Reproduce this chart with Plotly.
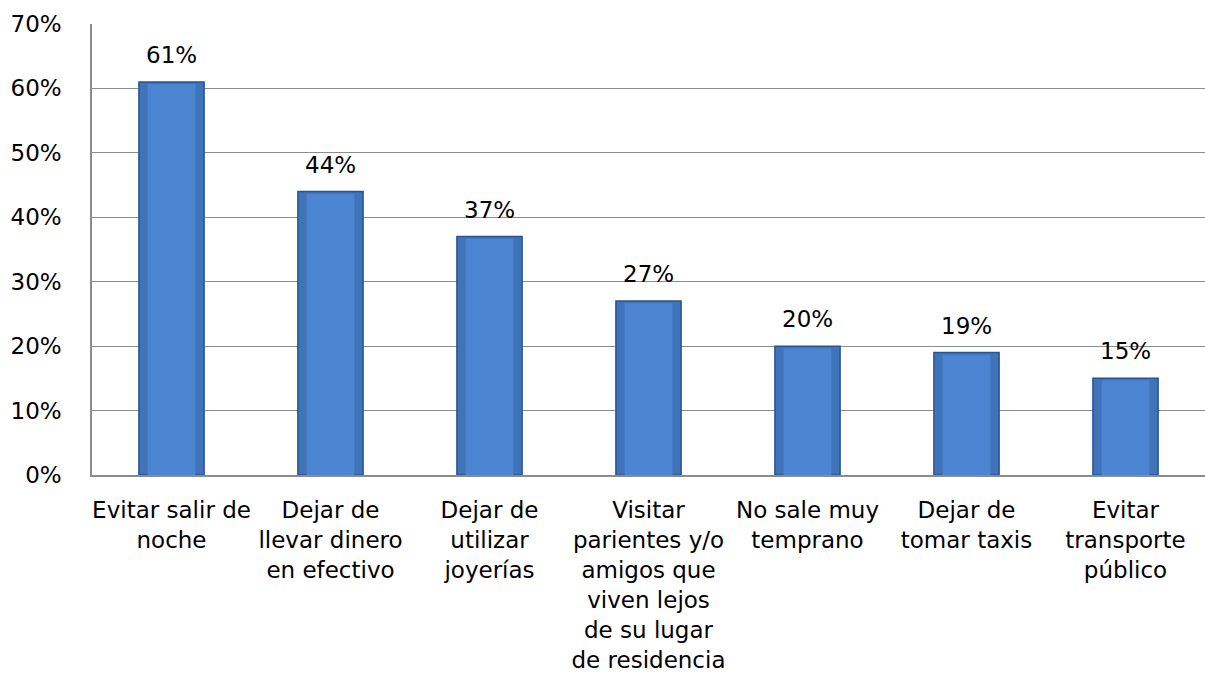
import plotly.graph_objects as go

categories = [
    "Evitar salir de<br>noche",
    "Dejar de<br>llevar dinero<br>en efectivo",
    "Dejar de<br>utilizar<br>joyerías",
    "Visitar<br>parientes y/o<br>amigos que<br>viven lejos<br>de su lugar<br>de residencia",
    "No sale muy<br>temprano",
    "Dejar de<br>tomar taxis",
    "Evitar<br>transporte<br>público",
]
values = [61, 44, 37, 27, 20, 19, 15]
labels = [f"{v}%" for v in values]
y_ticks = [0, 10, 20, 30, 40, 50, 60, 70]
y_tick_labels = [f"{t}%" for t in y_ticks]

FONT = "DejaVu Sans"
FS = 23

fig = go.Figure()
fig.add_trace(go.Bar(
    x=categories, y=values, width=0.41,
    marker=dict(color="#3F73BA", line=dict(color="#2A5590", width=1.5)),
    hoverinfo="skip",
))
fig.add_trace(go.Bar(
    x=categories, y=[v - 0.35 for v in values], width=0.3,
    marker=dict(color="#4C86D2", line=dict(width=0)),
    hoverinfo="skip",
))
for c, v, t in zip(categories, values, labels):
    fig.add_annotation(x=c, y=v, text=t, showarrow=False,
                       yanchor="bottom", yshift=12,
                       font=dict(family=FONT, size=FS, color="#000000"))
fig.update_layout(
    width=1205, height=682,
    margin=dict(l=92, r=0, t=24, b=207),
    paper_bgcolor="white", plot_bgcolor="white",
    barmode="overlay", showlegend=False,
    font=dict(family=FONT, size=FS, color="#000000"),
)
fig.update_yaxes(
    range=[0, 70], tickvals=y_ticks, ticktext=y_tick_labels,
    showgrid=True, gridcolor="#8C8C8C", gridwidth=1.3,
    showline=True, linecolor="#8C8C8C", linewidth=1.5,
    ticks="", ticklabelstandoff=24,
    tickfont=dict(family=FONT, size=FS, color="#000000"),
    zeroline=False, automargin=False,
)
fig.update_xaxes(
    showline=True, linecolor="#8C8C8C", linewidth=1.5,
    tickfont=dict(family=FONT, size=FS, color="#000000"),
    ticks="", tickangle=0, ticklabelstandoff=14, automargin=False,
)
fig.write_html("out.html", config={"displayModeBar": False},
               post_script="document.body.style.margin='0';")
